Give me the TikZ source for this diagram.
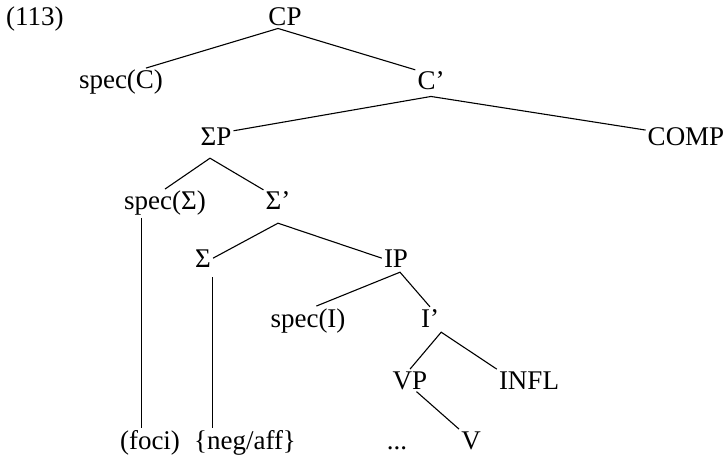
\documentclass[tikz,border=0pt]{standalone}
\usepackage{fontspec}
\setmainfont{Liberation Serif}
\usepackage{tikz}

\begin{document}
\begin{tikzpicture}[x=1pt, y=-1pt, font=\fontsize{27}{32}\selectfont,
    lbl/.style={anchor=base, inner sep=2pt},
    branch/.style={line width=1.1pt}]
          \useasboundingbox (0,0) rectangle (728,457);

          % Example number
          \node[lbl, anchor=base west] (num) at (4,26) {(113)};

          % Labels of the tree, row by row
          \node[lbl] (CP) at (285,26) {CP};
          \node[lbl] (specC) at (121,89) {spec(C)};
          \node[lbl] (Cbar) at (431,90) {C’};
          \node[lbl] (SigmaP) at (216,146) {ΣP};
          \node[lbl] (COMP) at (686,146) {COMP};
          \node[lbl] (specS) at (165,210) {spec(Σ)};
          \node[lbl] (Sbar) at (278,210) {Σ’};
          \node[lbl] (Sigma) at (203,267) {Σ};
          \node[lbl] (IP) at (396,267) {IP};
          \node[lbl] (specI) at (308,327) {spec(I)};
          \node[lbl] (Ibar) at (430,327) {I’};
          \node[lbl] (VP) at (410,389) {VP};
          \node[lbl] (INFL) at (529,389) {INFL};
          \node[lbl] (foci) at (150,449) {(foci)};
          \node[lbl] (negaff) at (245,449) {\{neg/aff\}};
          \node[lbl] (dots) at (397,449) {...};
          \node[lbl] (V) at (471,449) {V};

          % Branches
          \draw[branch] (specC.30) -- ([xshift=-7pt]CP.south) -- (Cbar.north west);
          \draw[branch] (SigmaP.20) -- ([yshift=-4pt]Cbar.south) -- (COMP.170);
          \draw[branch] (specS.north) -- ([shift={(-6pt,-10pt)}]SigmaP.south)
            -- (Sbar.north west);
          \draw[branch] (specS.south -| foci.120) -- (foci.120);
          \draw[branch] (Sigma.east) -- ([yshift=-11pt]Sbar.south) -- (IP.west);
          \draw[branch] ([yshift=-8pt]Sigma.-50) -- (Sigma.-50 |- negaff.north);
          \draw[branch] (specI.60) -- ([shift={(4pt,-3pt)}]IP.south) -- (Ibar.north);
          \draw[branch] (VP.north) -- ([yshift=-3pt]Ibar.south east) -- (INFL.north west);
          \draw[branch] (VP.-60) -- (V.north west);
        \end{tikzpicture}
\end{document}
